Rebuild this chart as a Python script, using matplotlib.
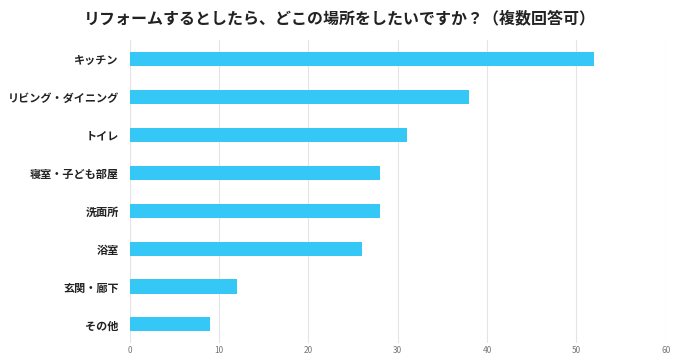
import matplotlib.pyplot as plt

plt.rcParams['font.family'] = ['Noto Sans CJK JP', 'DejaVu Sans']

categories = ['キッチン', 'リビング・ダイニング', 'トイレ', '寝室・子ども部屋',
              '洗面所', '浴室', '玄関・廊下', 'その他']
values = [52, 38, 31, 28, 28, 26, 12, 9]
xticks = [0, 10, 20, 30, 40, 50, 60]

fig = plt.figure(figsize=(6.8, 3.63), dpi=100)
ax = fig.add_axes([0.191, 0.054, 0.788, 0.836])

pos = list(range(len(categories)))
ax.barh(pos, values, height=0.37, color='#35c8f6')
ax.set_ylim(len(categories) - 0.5, -0.5)
ax.set_xlim(0, 60)
ax.set_yticks(pos)
ax.set_yticklabels(categories, fontsize=8, fontweight='bold', color='#222222')
ax.set_xticks(xticks)
ax.set_xticklabels([str(t) for t in xticks], fontsize=6, color='#777777')
ax.tick_params(axis='both', length=0)
ax.tick_params(axis='y', pad=8)
ax.tick_params(axis='x', pad=2)
ax.grid(axis='x', color='#e4e4e4', linewidth=0.8)
ax.set_axisbelow(True)
for s in ax.spines.values():
    s.set_visible(False)

fig.text(0.5, 0.95, 'リフォームするとしたら、どこの場所をしたいですか？（複数回答可）',
         ha='center', va='center', fontsize=11.5, fontweight='bold', color='#222222')

fig.savefig('out.png', dpi=100, facecolor='white')
